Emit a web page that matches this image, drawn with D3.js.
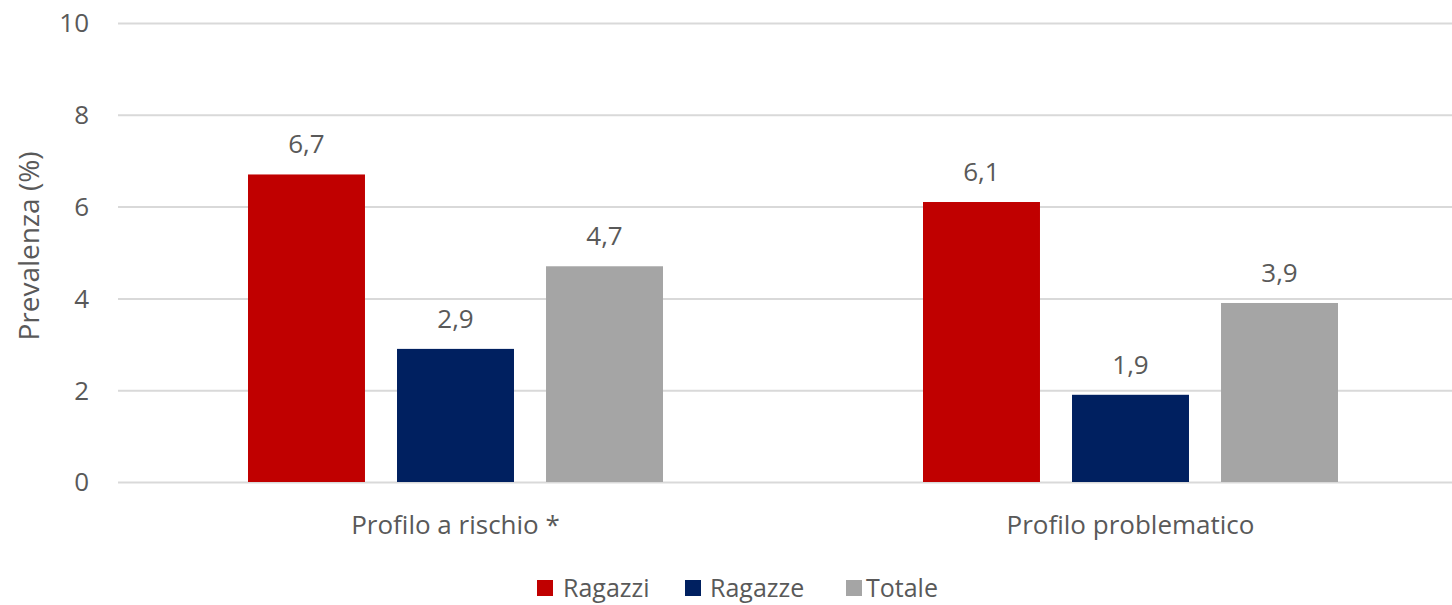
<!DOCTYPE html>
<meta charset="utf-8">
<head>
  <title>Prevalenza</title>
</head>
<style>
  body {
    margin: 0;
    background: #fff;
    font-family: "Open Sans", "Liberation Sans", sans-serif;
  }
  svg { display: block; }
  .grid line { stroke: #d9d9d9; stroke-width: 2px; }
  .grid path { display: none; }
  .axis text, .label, .cat, .legend text, .title { fill: #595959; }
</style>
<body>
<svg width="1452" height="605"></svg>
<script src="https://cdn.jsdelivr.net/npm/d3@7"></script>
<script>
  // data
  var categories = ["Profilo a rischio *", "Profilo problematico"];
  var series = ["Ragazzi", "Ragazze", "Totale"];
  var ragazzi = [6.7, 6.1];
  var ragazze = [2.9, 1.9];
  var totale = [4.7, 3.9];
  var yTicks = [0, 2, 4, 6, 8, 10];
  var colors = ["#c00000", "#002060", "#a5a5a5"];

  var values = [ragazzi, ragazze, totale];

  var svg = d3.select("svg");
  var margin = {left: 118, top: 23, bottom: 482};
  var plotRight = 1468;

  var x0 = d3.scaleBand()
    .domain(categories)
    .range([margin.left, plotRight]);

  var x1 = d3.scaleBand()
    .domain(series)
    .range([130, x0.bandwidth() - 130])
    .paddingInner(0.215);

  var y = d3.scaleLinear()
    .domain([0, 10])
    .range([margin.bottom, margin.top]);

  // gridlines
  svg.append("g")
    .attr("class", "grid")
    .attr("transform", "translate(" + margin.left + ",0)")
    .call(d3.axisLeft(y).tickValues(yTicks).tickSize(-(plotRight - margin.left)).tickFormat(""));

  // y labels
  svg.append("g")
    .attr("class", "axis")
    .selectAll("text")
    .data(yTicks)
    .enter().append("text")
    .attr("x", 89)
    .attr("y", function(d) { return y(d); })
    .attr("dy", "0.36em")
    .attr("text-anchor", "end")
    .style("font-size", "26px")
    .text(function(d) { return d; });

  // axis title
  svg.append("text")
    .attr("class", "title")
    .attr("transform", "translate(39," + 246 + ") rotate(-90)")
    .attr("text-anchor", "middle")
    .style("font-size", "28px")
    .text("Prevalenza (%)");

  // bars
  var groups = svg.selectAll(".group")
    .data(categories)
    .enter().append("g")
    .attr("class", "group")
    .attr("transform", function(d) { return "translate(" + x0(d) + ",0)"; });

  groups.each(function(cat, ci) {
    var g = d3.select(this);
    series.forEach(function(s, si) {
      var v = values[si][ci];
      g.append("rect")
        .attr("x", x1(s))
        .attr("y", y(v))
        .attr("width", x1.bandwidth())
        .attr("height", y(0) - y(v))
        .attr("fill", colors[si]);
      g.append("text")
        .attr("class", "label")
        .attr("x", x1(s) + x1.bandwidth() / 2)
        .attr("y", y(v) - 21)
        .attr("text-anchor", "middle")
        .style("font-size", "26px")
        .text(String(v).replace(".", ","));
    });
  });

  // category labels
  svg.selectAll(".cat")
    .data(categories)
    .enter().append("text")
    .attr("class", "cat")
    .attr("x", function(d) { return x0(d) + x0.bandwidth() / 2; })
    .attr("y", 534)
    .attr("text-anchor", "middle")
    .style("font-size", "26px")
    .text(function(d) { return d; });

  // legend
  var legendX = [537, 685, 846];
  var legendTextX = [563, 710, 866];
  var legend = svg.append("g").attr("class", "legend");
  series.forEach(function(s, i) {
    legend.append("rect")
      .attr("x", legendX[i])
      .attr("y", 580)
      .attr("width", 16)
      .attr("height", 16)
      .attr("fill", colors[i]);
    legend.append("text")
      .attr("x", legendTextX[i])
      .attr("y", 597)
      .style("font-size", "25px")
      .text(s);
  });
</script>
</body>
</html>
